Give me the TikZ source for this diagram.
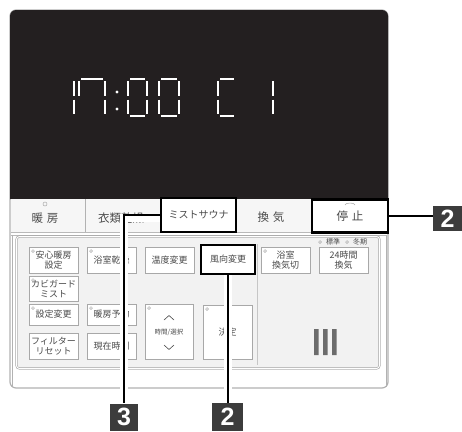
\documentclass[tikz,border=0pt]{standalone}
\usepackage{fontspec}
\newfontfamily\jp{Noto Sans CJK JP}
\newfontfamily\lab{Liberation Sans}
\definecolor{lcd}{HTML}{231F20}
\definecolor{tagc}{HTML}{3C3C3C}
\definecolor{bord}{HTML}{A8A8A8}
\definecolor{pan}{HTML}{F2F2F2}
\definecolor{txt}{HTML}{4A4A4A}
\begin{document}
\begin{tikzpicture}[x=1pt,y=-1pt,
  btn/.style={draw=bord, fill=white, line width=0.6pt, inner sep=0pt, align=center,
    font=\jp\fontsize{9}{10}\selectfont, text=txt},
  hot/.style={draw=black, line width=2.4pt, fill=white, inner sep=0pt, align=center,
    font=\jp\fontsize{9}{10}\selectfont, text=txt},
  toprow/.style={inner sep=0pt, font=\jp\fontsize{11.5}{11.5}\selectfont, text=txt},
  tagbox/.style={fill=tagc, text=white, font=\lab\bfseries\fontsize{25}{25}\selectfont,
    inner sep=0pt},
  lead/.style={line width=2.4pt, black},
  halo/.style={line width=8pt, white},
  seg/.style={white, line width=2.6pt},
  lamp/.style={draw=bord, line width=0.5pt}
]
\useasboundingbox (0,0) rectangle (462,431);

% ---- body ----
\draw[gray!60, line width=1.2pt, fill=white, rounded corners=6pt] (10,10) rectangle (388,388);
\fill[lcd] (10,199) [rounded corners=6pt] -- (10,10) -- (388,10) [sharp corners] -- (388,199) -- cycle;
% top row
\fill[pan!70] (11,199) rectangle (387,232);
\draw[gray!55, line width=0.8pt] (11,232.5) -- (387,232.5);
\draw[gray!55, line width=0.8pt] (11,235) -- (387,235);
\draw[gray!60, line width=0.7pt] (85,199) -- (85,232);
% lower panel
\fill[pan] (17,237) rectangle (379,368);
\draw[gray!70, line width=0.6pt, double=white, double distance=1pt, rounded corners=3pt]
  (16.5,236.5) rectangle (379.5,368.5);
\draw[gray!60, line width=0.6pt] (12,235) -- (12,387);
\draw[gray!60, line width=0.6pt] (386,235) -- (386,387);
\draw[gray!45, line width=0.6pt] (257,244) -- (257,365);

% ---- 7-segment display ----
\draw[seg] (74,81) -- (74,95.5) (74,99.5) -- (74,114);
\draw[seg] (81,79) -- (103,79) (79,81) -- (79,95.5) (105,81) -- (105,95.5) (105,99.5) -- (105,114);
\fill[white] (117,92) circle (1.7pt) (117,109) circle (1.7pt);
\draw[seg] (130,79) -- (145,79) (147,81) -- (147,95.5) (147,99.5) -- (147,114)
  (130,116) -- (145,116) (128,99.5) -- (128,114) (128,81) -- (128,95.5);
\draw[seg] (161,79) -- (177,79) (179,81) -- (179,95.5) (179,99.5) -- (179,114)
  (161,116) -- (177,116) (159,99.5) -- (159,114) (159,81) -- (159,95.5);
\draw[seg] (220,79) -- (234,79) (220,116) -- (234,116) (218,99.5) -- (218,114) (218,81) -- (218,95.5);
\draw[seg] (273,81) -- (273,95.5) (273,99.5) -- (273,114);

% ---- top row buttons ----
\draw[lamp] (45,204) circle (2pt);
\node[toprow] (danbo) at (45,218) {暖\,\,房};
\node[toprow] (irui) at (121,218) {衣類乾燥};
\node[toprow] (kanki) at (271,217) {換\,\,気};

% ---- lower panel buttons ----
\node[btn, minimum width=49pt, minimum height=26pt] (anshin) at (53.5,260) {安心暖房\\設定};
\node[btn, minimum width=49pt, minimum height=25pt] (kabi) at (53.5,288.5) {カビガード\\ミスト};
\node[btn, minimum width=49pt, minimum height=26pt] (yokukan) at (111.5,260) {浴室乾燥};
\node[btn, minimum width=49pt, minimum height=26pt] (ondo) at (169.5,260) {温度変更};
\node[btn, minimum width=49pt, minimum height=26pt] (yokuki) at (285.5,260) {浴室\\換気切};
\node[btn, minimum width=49pt, minimum height=26pt] (h24) at (343.5,260) {24時間\\換気};
\node[btn, minimum width=49pt, minimum height=21pt] (settei) at (53.5,314.5) {設定変更};
\node[btn, minimum width=49pt, minimum height=26pt] (filter) at (53.5,346) {フィルター\\リセット};
\node[btn, minimum width=49pt, minimum height=21pt] (yoyaku) at (111.5,314.5) {暖房予約};
\node[btn, minimum width=49pt, minimum height=26pt] (genzai) at (111.5,346) {現在時刻};
\node[btn, minimum width=48pt, minimum height=55pt] (jikan) at (169,331.5) {};
\node[inner sep=0pt, font=\jp\fontsize{6.5}{7}\selectfont, text=txt] (jikant) at (169,332) {時間/選択};
\draw[txt, line width=0.6pt] (164,320) -- (169,315.5) -- (174,320);
\draw[txt, line width=0.6pt] (164,345) -- (169,349.5) -- (174,345);
\node[btn, minimum width=49pt, minimum height=54pt] (kettei) at (227.5,332) {決定};
% lamps on buttons
\foreach \p in {(33,251),(33,280),(91,251),(265,251),(33,308),(91,308),(149,308),(207,309)}
  \draw[lamp] \p circle (1.4pt);
% 標準 / 冬期
\draw[lamp] (320,242) circle (1.4pt);
\node[inner sep=0pt, font=\jp\fontsize{7}{7}\selectfont, text=txt] (hyoujun) at (333,242) {標準};
\draw[lamp] (347,242) circle (1.4pt);
\node[inner sep=0pt, font=\jp\fontsize{7}{7}\selectfont, text=txt] (toki) at (360,242) {冬期};
% III
\fill[gray!85!black] (314,329) rectangle (318.5,355) (323,329) rectangle (327.5,355) (332,329) rectangle (336.5,355);

% ---- tags ----
\node[tagbox, minimum width=28pt, minimum height=27pt] (t3) at (124,417) {3};
\node[tagbox, minimum width=31pt, minimum height=28pt] (t2b) at (227.5,417) {2};
\node[tagbox, minimum width=29pt, minimum height=25pt] (t2r) at (447.5,218.5) {2};

% ---- highlighted buttons ----
\coordinate (mistw) at (161,218);
\draw[halo] (mistw) -- (mistw -| t3.north) -- (t3.north);
\draw[halo] (228,274) -- (228,403);
\node[hot, font=\jp\fontsize{10}{10}\selectfont, minimum width=75pt, minimum height=34pt] (mist) at (198.5,215) {ミストサウナ};
\node[hot, font=\jp\fontsize{11.5}{11.5}\selectfont, minimum width=76pt, minimum height=33pt] (stop) at (350,216) {停\,\,止};
\node[hot, minimum width=54pt, minimum height=29pt] (wind) at (228,259.5) {風向変更};
\draw[lamp] (345,205) arc (180:0:5pt and 2pt);
% leaders
\draw[lead] (mist.west) -- (mist.west -| t3.north) -- (t3.north);
\draw[lead] (wind.south) -- (wind.south |- t2b.north);
\draw[lead] (stop.east) -- (stop.east -| t2r.west);
\end{tikzpicture}
\end{document}
